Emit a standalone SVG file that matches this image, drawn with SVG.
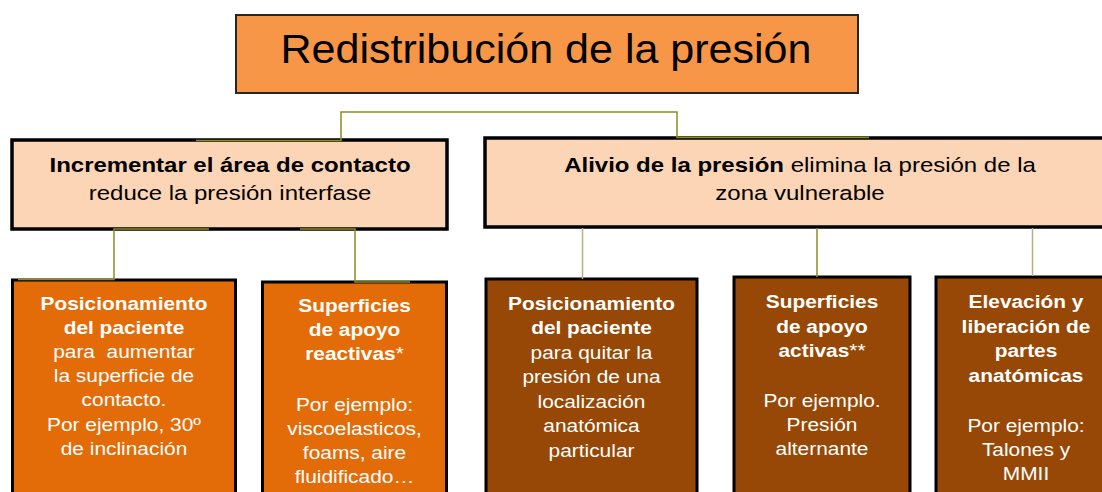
<svg xmlns="http://www.w3.org/2000/svg" width="1102" height="492" viewBox="0 0 1102 492">
<style>
text{font-family:"Liberation Sans",Arial,sans-serif;text-anchor:middle}
.title{fill:#F79646;stroke:#262626;stroke-width:2}
.mid{fill:#FBD5B5;stroke:#000;stroke-width:3.5}
.orange{fill:#E36C09;stroke:#000;stroke-width:3}
.brown{fill:#974806;stroke:#000;stroke-width:3}
.tt{font-size:41px;fill:#000}
.mt{font-size:20.5px;fill:#000}
.bt{font-size:18.5px;fill:#fff}
.b{font-weight:bold}
.c1{fill:none;stroke:#8C8C1E;stroke-width:1.5}
.c2{fill:none;stroke:#B4B27C;stroke-width:1.5}
</style>
<rect width="1102" height="492" fill="#fff"/>
<g id="n-title">
<rect class="title" x="236" y="15" width="622" height="78"/>
<text class="tt" transform="translate(546,0) scale(1.05,1)" x="0" y="63">Redistribución de la presión</text>
</g>
<g id="n-contacto">
<rect class="mid" x="12" y="140" width="435" height="89"/>
<text class="mt" transform="translate(230,0) scale(1.17,1)"><tspan class="b" x="0" y="172">Incrementar el área de contacto</tspan><tspan x="0" y="200">reduce la presión interfase</tspan></text>
</g>
<g id="n-alivio">
<rect class="mid" x="485" y="138" width="630" height="89"/>
<text class="mt" transform="translate(800,0) scale(1.17,1)"><tspan x="0" y="172"><tspan class="b">Alivio de la presión</tspan> elimina la presión de la</tspan><tspan x="0" y="200">zona vulnerable</tspan></text>
</g>
<g id="n-pos1">
<rect class="orange" x="12.5" y="280" width="223" height="230"/>
<text class="bt" transform="translate(124,0) scale(1.13,1)"><tspan class="b" x="0" y="310">Posicionamiento</tspan><tspan class="b" x="0" y="334">del paciente</tspan><tspan x="0" y="358" xml:space="preserve">para  aumentar</tspan><tspan x="0" y="382">la superficie de</tspan><tspan x="0" y="406">contacto.</tspan><tspan x="0" y="431">Por ejemplo, 30º</tspan><tspan x="0" y="455">de inclinación</tspan></text>
</g>
<g id="n-reactivas">
<rect class="orange" x="262.5" y="282" width="184" height="230"/>
<text class="bt" transform="translate(354.5,0) scale(1.13,1)"><tspan class="b" x="0" y="312">Superficies</tspan><tspan class="b" x="0" y="336">de apoyo</tspan><tspan class="b" x="0" y="360">reactivas<tspan font-weight="normal">*</tspan></tspan><tspan x="0" y="411">Por ejemplo:</tspan><tspan x="0" y="435">viscoelasticos,</tspan><tspan x="0" y="459">foams, aire</tspan><tspan x="0" y="483">fluidificado…</tspan></text>
</g>
<g id="n-pos2">
<rect class="brown" x="486" y="279" width="211" height="230"/>
<text class="bt" transform="translate(591.5,0) scale(1.13,1)"><tspan class="b" x="0" y="310">Posicionamiento</tspan><tspan class="b" x="0" y="334.5">del paciente</tspan><tspan x="0" y="359">para quitar la</tspan><tspan x="0" y="383.5">presión de una</tspan><tspan x="0" y="408">localización</tspan><tspan x="0" y="432.5">anatómica</tspan><tspan x="0" y="457">particular</tspan></text>
</g>
<g id="n-activas">
<rect class="brown" x="734" y="277" width="176" height="230"/>
<text class="bt" transform="translate(822,0) scale(1.13,1)"><tspan class="b" x="0" y="308">Superficies</tspan><tspan class="b" x="0" y="333">de apoyo</tspan><tspan class="b" x="0" y="357">activas<tspan font-weight="normal">**</tspan></tspan><tspan x="0" y="407">Por ejemplo.</tspan><tspan x="0" y="431">Presión</tspan><tspan x="0" y="455">alternante</tspan></text>
</g>
<g id="n-elevacion">
<rect class="brown" x="936" y="277" width="180" height="230"/>
<text class="bt" transform="translate(1026,0) scale(1.13,1)"><tspan class="b" x="0" y="308">Elevación y</tspan><tspan class="b" x="0" y="333">liberación de</tspan><tspan class="b" x="0" y="357">partes</tspan><tspan class="b" x="0" y="382">anatómicas</tspan><tspan x="0" y="432">Por ejemplo:</tspan><tspan x="0" y="456">Talones y</tspan><tspan x="0" y="480">MMII</tspan></text>
</g>
<g id="connectors">
<path class="c1" d="M196,140.5 H341 V112 H677 V137.5 H869"/>
<path class="c1" d="M209,229 H114 V279.5 H18"/>
<path class="c1" d="M300,229 H355 V282 H410"/>
<path class="c2" d="M582.5,228 V279"/>
<path class="c1" d="M817,228 V277"/>
<path class="c2" d="M1032.5,228 V276"/>
</g>
</svg>
